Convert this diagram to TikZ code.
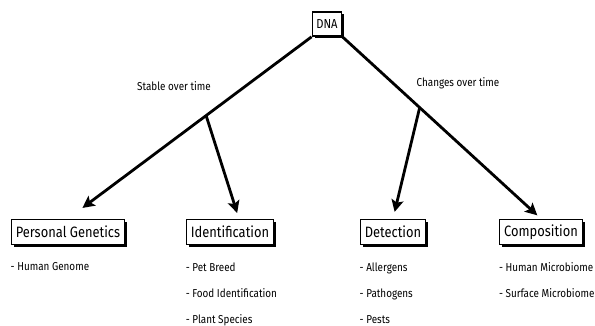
\documentclass[tikz,border=0pt]{standalone}
\usepackage{fontspec}
\setmainfont{Fira Sans}[FakeStretch=0.86]
\usetikzlibrary{positioning, shadows, arrows.meta}

\tikzset{
    topic/.style={draw, line width=1.6pt, fill=white, inner xsep=4.5pt, minimum height=25pt,
        font=\fontsize{15}{17}\selectfont,
        drop shadow={shadow xshift=2.5pt, shadow yshift=-2.5pt, fill=black, opacity=1}},
    items/.style={align=left, inner sep=0pt, font=\fontsize{11.5}{26}\selectfont},
    lbl/.style={font=\fontsize{11.5}{13}\selectfont},
    arr/.style={line width=2.8pt, -{Stealth[length=12pt, width=12pt, inset=2.5pt]}}
}

\begin{document}
\begin{tikzpicture}[x=1pt, y=-1pt]
    \useasboundingbox (0,0) rectangle (595,326);

    % root
    \node[topic, font=\fontsize{13}{15}\selectfont, minimum height=24pt, inner xsep=4pt] (dna) at (327,24) {DNA};

    % the four uses
    \node[topic] (pg) at (68,232) {Personal Genetics};
    \node[topic] (ident) at (230,232) {Identification};
    \node[topic] (det) at (393,232) {Detection};
    \node[topic] (comp) at (541,232) {Composition};

    % lists under the boxes
    \node[items, below right=17pt and 0pt of pg.south west] (pglist) {- Human Genome};
    \node[items, below right=17pt and 0pt of ident.south west] (identlist) {- Pet Breed\\- Food Identification\\- Plant Species};
    \node[items, below right=17pt and 0pt of det.south west] (detlist) {- Allergens\\- Pathogens\\- Pests};
    \node[items, below right=17pt and 0pt of comp.south west] (complist) {- Human Microbiome\\- Surface Microbiome};

    % stable over time
    \draw[arr, shorten >=18pt] (dna.south west) -- coordinate[pos=0.433] (stable) (pg.north);
    \draw[arr, shorten >=6pt] (stable) -- ([xshift=9pt]ident.north);
    \node[lbl] (stablelbl) at (174,86) {Stable over time};

    % changes over time
    \draw[arr, shorten >=5pt] (dna.south east) -- coordinate[pos=0.389] (changes) (comp.north);
    \draw[arr, shorten >=7pt] (changes) -- (det.north);
    \node[lbl] (changeslbl) at (458,83) {Changes over time};
\end{tikzpicture}
\end{document}
